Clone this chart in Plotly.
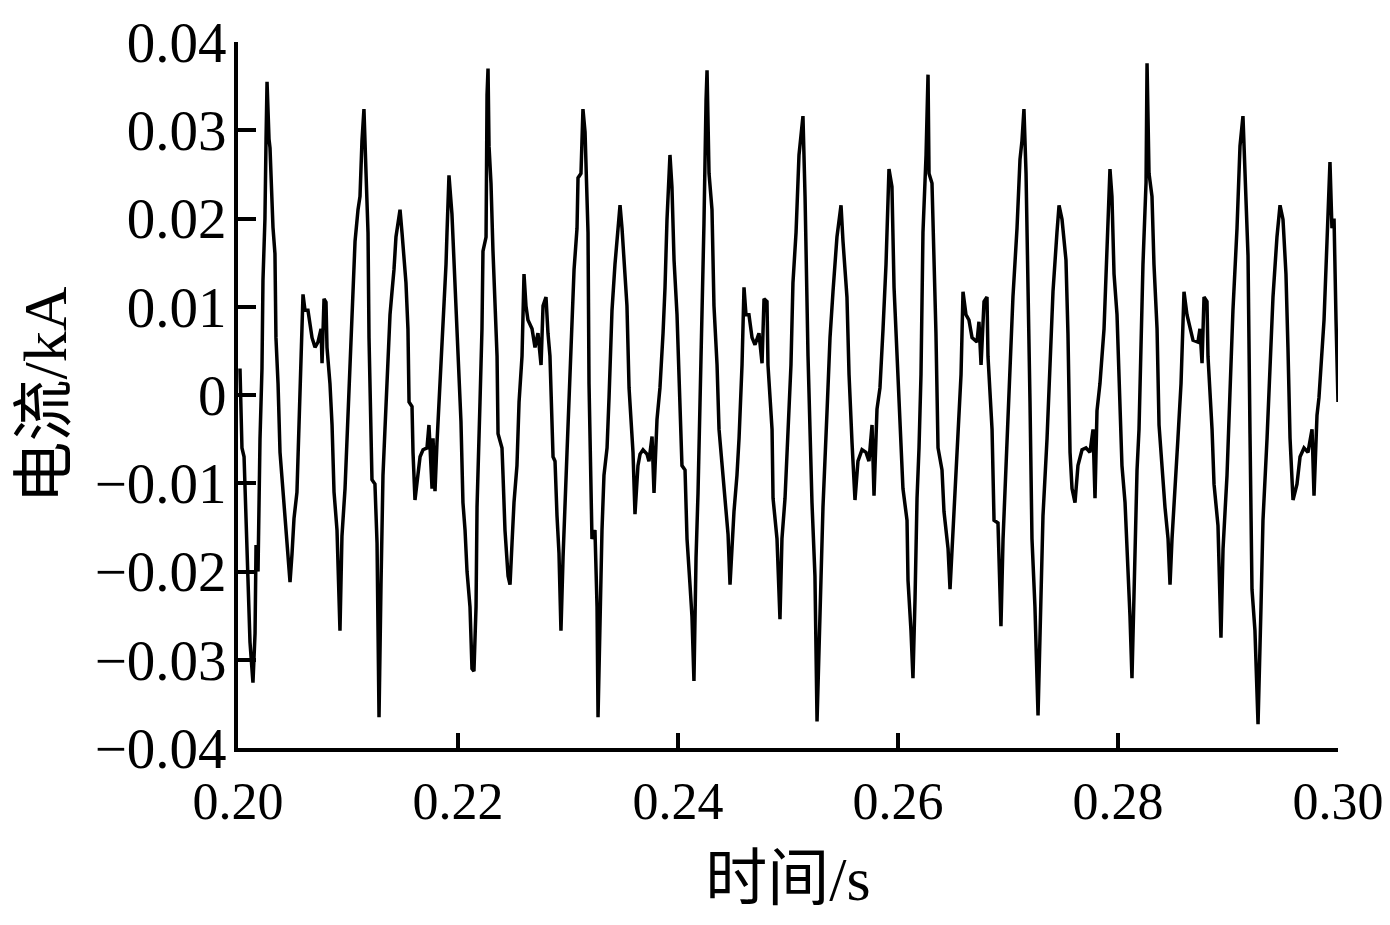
import plotly.graph_objects as go

# Time (s) and current (kA)
time_s = [
    0.20018, 0.20036, 0.20055, 0.20082, 0.20091, 0.20109, 0.20136, 0.20155, 0.20164, 0.20182,
    0.20200, 0.20218, 0.20227, 0.20245, 0.20255, 0.20264, 0.20282, 0.20291, 0.20318, 0.20336,
    0.20345, 0.20364, 0.20382, 0.20409, 0.20427, 0.20455, 0.20473, 0.20491, 0.20509, 0.20536,
    0.20555, 0.20573, 0.20591, 0.20609, 0.20636, 0.20673, 0.20700, 0.20727, 0.20755, 0.20764,
    0.20782, 0.20800, 0.20809, 0.20836, 0.20855, 0.20873, 0.20900, 0.20927, 0.20945, 0.20973,
    0.21000, 0.21018, 0.21045, 0.21064, 0.21091, 0.21109, 0.21127, 0.21145, 0.21164, 0.21182,
    0.21191, 0.21209, 0.21218, 0.21245, 0.21264, 0.21273, 0.21282, 0.21300, 0.21318, 0.21336,
    0.21355, 0.21382, 0.21400, 0.21418, 0.21436, 0.21455, 0.21473, 0.21491, 0.21509, 0.21527,
    0.21545, 0.21555, 0.21582, 0.21591, 0.21609, 0.21636, 0.21655, 0.21682, 0.21718, 0.21736,
    0.21764, 0.21773, 0.21791, 0.21809, 0.21827, 0.21855, 0.21864, 0.21891, 0.21900, 0.21918,
    0.21945, 0.21973, 0.22000, 0.22027, 0.22045, 0.22064, 0.22082, 0.22109, 0.22127, 0.22145,
    0.22164, 0.22173, 0.22200, 0.22218, 0.22227, 0.22255, 0.22264, 0.22273, 0.22282, 0.22300,
    0.22318, 0.22336, 0.22355, 0.22364, 0.22400, 0.22409, 0.22427, 0.22455, 0.22473, 0.22491,
    0.22509, 0.22536, 0.22555, 0.22582, 0.22591, 0.22600, 0.22618, 0.22636, 0.22673, 0.22700,
    0.22727, 0.22755, 0.22773, 0.22800, 0.22818, 0.22836, 0.22864, 0.22882, 0.22900, 0.22918,
    0.22936, 0.22955, 0.22991, 0.23009, 0.23036, 0.23055, 0.23082, 0.23091, 0.23118, 0.23136,
    0.23155, 0.23173, 0.23182, 0.23191, 0.23218, 0.23245, 0.23264, 0.23273, 0.23291, 0.23309,
    0.23327, 0.23355, 0.23373, 0.23400, 0.23427, 0.23445, 0.23473, 0.23491, 0.23518, 0.23536,
    0.23555, 0.23573, 0.23591, 0.23609, 0.23636, 0.23655, 0.23682, 0.23718, 0.23736, 0.23764,
    0.23782, 0.23809, 0.23836, 0.23864, 0.23882, 0.23900, 0.23927, 0.23945, 0.23964, 0.23991,
    0.24009, 0.24036, 0.24064, 0.24082, 0.24109, 0.24127, 0.24145, 0.24164, 0.24182, 0.24200,
    0.24218, 0.24236, 0.24255, 0.24264, 0.24282, 0.24309, 0.24327, 0.24355, 0.24373, 0.24400,
    0.24427, 0.24455, 0.24473, 0.24491, 0.24509, 0.24536, 0.24555, 0.24582, 0.24600, 0.24618,
    0.24645, 0.24673, 0.24700, 0.24736, 0.24764, 0.24782, 0.24809, 0.24818, 0.24855, 0.24864,
    0.24900, 0.24927, 0.24945, 0.24973, 0.25000, 0.25027, 0.25045, 0.25073, 0.25100, 0.25136,
    0.25155, 0.25164, 0.25182, 0.25218, 0.25245, 0.25264, 0.25291, 0.25318, 0.25355, 0.25382,
    0.25409, 0.25445, 0.25482, 0.25500, 0.25536, 0.25555, 0.25582, 0.25609, 0.25636, 0.25673,
    0.25709, 0.25736, 0.25764, 0.25782, 0.25809, 0.25836, 0.25864, 0.25891, 0.25918, 0.25945,
    0.25964, 0.25991, 0.26018, 0.26045, 0.26082, 0.26091, 0.26118, 0.26136, 0.26155, 0.26173,
    0.26191, 0.26209, 0.26227, 0.26255, 0.26273, 0.26282, 0.26309, 0.26327, 0.26345, 0.26364,
    0.26400, 0.26418, 0.26455, 0.26473, 0.26491, 0.26518, 0.26545, 0.26573, 0.26591, 0.26618,
    0.26645, 0.26673, 0.26718, 0.26736, 0.26755, 0.26782, 0.26809, 0.26818, 0.26855, 0.26873,
    0.26909, 0.26936, 0.26955, 0.26991, 0.27018, 0.27045, 0.27082, 0.27109, 0.27127, 0.27145,
    0.27164, 0.27182, 0.27200, 0.27218, 0.27245, 0.27273, 0.27300, 0.27318, 0.27355, 0.27382,
    0.27409, 0.27445, 0.27464, 0.27491, 0.27527, 0.27545, 0.27564, 0.27582, 0.27609, 0.27636,
    0.27673, 0.27709, 0.27745, 0.27773, 0.27791, 0.27809, 0.27836, 0.27873, 0.27891, 0.27909,
    0.27927, 0.27945, 0.27964, 0.27991, 0.28018, 0.28036, 0.28064, 0.28091, 0.28109, 0.28127,
    0.28145, 0.28173, 0.28191, 0.28209, 0.28227, 0.28255, 0.28264, 0.28282, 0.28309, 0.28327,
    0.28355, 0.28373, 0.28400, 0.28427, 0.28455, 0.28473, 0.28491, 0.28518, 0.28545, 0.28573,
    0.28600, 0.28627, 0.28655, 0.28682, 0.28727, 0.28745, 0.28764, 0.28782, 0.28809, 0.28818,
    0.28855, 0.28873, 0.28909, 0.28936, 0.28955, 0.28991, 0.29018, 0.29045, 0.29082, 0.29109,
    0.29136, 0.29155, 0.29182, 0.29200, 0.29218, 0.29245, 0.29273, 0.29300, 0.29318, 0.29355,
    0.29382, 0.29409, 0.29445, 0.29473, 0.29500, 0.29527, 0.29545, 0.29564, 0.29591, 0.29627,
    0.29655, 0.29691, 0.29727, 0.29764, 0.29782, 0.29809, 0.29827, 0.29855, 0.29873, 0.29900,
    0.29927, 0.29945, 0.29964, 0.29982, 0.30000,
]

current_kA = [
    0.0030, -0.0060, -0.0070, -0.0180, -0.0200, -0.0280, -0.0326, -0.0270, -0.0170, -0.0200,
    -0.0050, 0.0030, 0.0130, 0.0200, 0.0290, 0.0355, 0.0290, 0.0280, 0.0190, 0.0160,
    0.0065, 0.0013, -0.0065, -0.0106, -0.0142, -0.0179, -0.0212, -0.0180, -0.0140, -0.0110,
    -0.0028, 0.0023, 0.0114, 0.0096, 0.0096, 0.0065, 0.0054, 0.0060, 0.0075, 0.0036,
    0.0109, 0.0105, 0.0054, 0.0013, -0.0034, -0.0110, -0.0153, -0.0267, -0.0160, -0.0106,
    -0.0028, 0.0044, 0.0117, 0.0174, 0.0210, 0.0225, 0.0288, 0.0324, 0.0251, 0.0184,
    0.0065, -0.0018, -0.0096, -0.0101, -0.0168, -0.0267, -0.0365, -0.0215, -0.0091, -0.0039,
    0.0023, 0.0091, 0.0117, 0.0142, 0.0179, 0.0199, 0.0210, 0.0184, 0.0148, 0.0127,
    0.0075, -0.0008, -0.0013, -0.0065, -0.0119, -0.0085, -0.0070, -0.0062, -0.0060, -0.0034,
    -0.0106, -0.0049, -0.0109, -0.0054, -0.0008, 0.0044, 0.0085, 0.0148, 0.0184, 0.0249,
    0.0205, 0.0127, 0.0054, -0.0030, -0.0122, -0.0153, -0.0200, -0.0240, -0.0310, -0.0313,
    -0.0240, -0.0127, -0.0008, 0.0075, 0.0163, 0.0179, 0.0340, 0.0370, 0.0282, 0.0240,
    0.0163, 0.0096, 0.0044, -0.0044, -0.0060, -0.0090, -0.0153, -0.0205, -0.0215, -0.0168,
    -0.0122, -0.0080, -0.0008, 0.0044, 0.0080, 0.0137, 0.0101, 0.0085, 0.0075, 0.0054,
    0.0070, 0.0034, 0.0101, 0.0111, 0.0070, 0.0044, -0.0070, -0.0075, -0.0137, -0.0179,
    -0.0267, -0.0184, -0.0065, -0.0013, 0.0065, 0.0142, 0.0189, 0.0246, 0.0251, 0.0324,
    0.0298, 0.0230, 0.0184, 0.0013, -0.0163, -0.0153, -0.0240, -0.0365, -0.0250, -0.0153,
    -0.0091, -0.0060, -0.0003, 0.0096, 0.0148, 0.0179, 0.0215, 0.0189, 0.0127, 0.0101,
    0.0008, -0.0034, -0.0065, -0.0135, -0.0080, -0.0067, -0.0062, -0.0067, -0.0075, -0.0047,
    -0.0111, -0.0028, 0.0008, 0.0070, 0.0122, 0.0199, 0.0272, 0.0236, 0.0153, 0.0091,
    0.0018, -0.0080, -0.0085, -0.0163, -0.0215, -0.0251, -0.0324, -0.0184, -0.0111, -0.0018,
    0.0070, 0.0194, 0.0334, 0.0368, 0.0251, 0.0210, 0.0101, 0.0034, -0.0039, -0.0080,
    -0.0111, -0.0158, -0.0215, -0.0174, -0.0132, -0.0091, -0.0049, 0.0034, 0.0122, 0.0091,
    0.0091, 0.0065, 0.0057, 0.0070, 0.0036, 0.0109, 0.0106, 0.0034, -0.0039, -0.0117,
    -0.0163, -0.0254, -0.0163, -0.0117, -0.0034, 0.0034, 0.0127, 0.0184, 0.0272, 0.0316,
    0.0225, 0.0168, 0.0044, -0.0122, -0.0205, -0.0370, -0.0230, -0.0127, -0.0018, 0.0065,
    0.0117, 0.0179, 0.0215, 0.0174, 0.0111, 0.0023, -0.0054, -0.0119, -0.0075, -0.0062,
    -0.0065, -0.0075, -0.0034, -0.0114, -0.0016, 0.0008, 0.0075, 0.0148, 0.0256, 0.0236,
    0.0122, 0.0044, -0.0018, -0.0106, -0.0142, -0.0210, -0.0267, -0.0321, -0.0230, -0.0117,
    -0.0060, 0.0023, 0.0184, 0.0272, 0.0363, 0.0251, 0.0240, 0.0158, 0.0070, -0.0060,
    -0.0085, -0.0132, -0.0174, -0.0220, -0.0174, -0.0111, -0.0034, 0.0023, 0.0117, 0.0091,
    0.0085, 0.0065, 0.0060, 0.0083, 0.0034, 0.0106, 0.0111, 0.0044, -0.0039, -0.0142,
    -0.0145, -0.0262, -0.0163, -0.0060, 0.0013, 0.0111, 0.0189, 0.0267, 0.0288, 0.0324,
    0.0251, 0.0137, -0.0008, -0.0163, -0.0240, -0.0363, -0.0215, -0.0137, -0.0049, 0.0044,
    0.0117, 0.0184, 0.0215, 0.0199, 0.0153, 0.0070, -0.0065, -0.0106, -0.0122, -0.0080,
    -0.0062, -0.0060, -0.0065, -0.0039, -0.0117, -0.0018, 0.0013, 0.0075, 0.0137, 0.0189,
    0.0256, 0.0225, 0.0137, 0.0091, -0.0003, -0.0080, -0.0122, -0.0194, -0.0251, -0.0321,
    -0.0220, -0.0085, -0.0039, 0.0065, 0.0148, 0.0241, 0.0376, 0.0251, 0.0225, 0.0148,
    0.0075, -0.0034, -0.0085, -0.0127, -0.0163, -0.0215, -0.0163, -0.0111, -0.0049, 0.0013,
    0.0117, 0.0091, 0.0075, 0.0062, 0.0060, 0.0075, 0.0036, 0.0111, 0.0106, 0.0044,
    -0.0039, -0.0101, -0.0148, -0.0275, -0.0174, -0.0091, 0.0003, 0.0096, 0.0189, 0.0282,
    0.0316, 0.0251, 0.0158, -0.0044, -0.0220, -0.0267, -0.0373, -0.0240, -0.0142, -0.0049,
    0.0034, 0.0111, 0.0179, 0.0215, 0.0199, 0.0137, 0.0054, -0.0049, -0.0119, -0.0101,
    -0.0070, -0.0060, -0.0065, -0.0039, -0.0114, -0.0023, -0.0003, 0.0044, 0.0085, 0.0174,
    0.0264, 0.0189, 0.0200, 0.0085, -0.0008,
]

x_tick_vals = [0.20, 0.22, 0.24, 0.26, 0.28, 0.30]
x_tick_text = ["0.20", "0.22", "0.24", "0.26", "0.28", "0.30"]
y_tick_vals = [-0.04, -0.03, -0.02, -0.01, 0, 0.01, 0.02, 0.03, 0.04]
y_tick_text = ["\u22120.04", "\u22120.03", "\u22120.02", "\u22120.01", "0",
               "0.01", "0.02", "0.03", "0.04"]

FONT = "Liberation Serif, Times New Roman, Noto Sans CJK SC, serif"

fig = go.Figure()
fig.add_trace(go.Scatter(
    x=time_s, y=current_kA, mode="lines",
    line=dict(color="black", width=3.5),
    showlegend=False, hoverinfo="skip",
))

# the page body has an 8 px margin, so the figure is offset by (8, 8);
# keep the figure inside the window so no scrollbars appear
fig.update_layout(
    width=1374, height=909,
    margin=dict(l=230, r=44, t=34, b=169, autoexpand=False),
    paper_bgcolor="white", plot_bgcolor="white",
    font=dict(family=FONT, size=56, color="black"),
    showlegend=False,
)

fig.update_xaxes(
    range=[0.2, 0.3], tickvals=x_tick_vals, ticktext=x_tick_text,
    ticks="inside", ticklen=15, tickwidth=3.5, tickcolor="black",
    showline=True, linewidth=4, linecolor="black", mirror=False,
    showgrid=False, zeroline=False, ticklabelstandoff=5, automargin=False,
    ticklabeloverflow="allow",
    tickfont=dict(family=FONT, size=52, color="black"),
    title=dict(text="时间/s", font=dict(family=FONT, size=62, color="black"), standoff=28),
)
fig.update_yaxes(
    range=[-0.04, 0.04], tickvals=y_tick_vals, ticktext=y_tick_text,
    ticks="inside", ticklen=18, tickwidth=3.5, tickcolor="black",
    showline=True, linewidth=4, linecolor="black", mirror=False,
    showgrid=False, zeroline=False, ticklabelstandoff=-4, automargin=False,
    ticklabeloverflow="allow",
    tickfont=dict(family=FONT, size=57, color="black"),
    title=dict(text="电流/kA", font=dict(family=FONT, size=62, color="black"), standoff=9),
)

fig.write_html("out.html")
